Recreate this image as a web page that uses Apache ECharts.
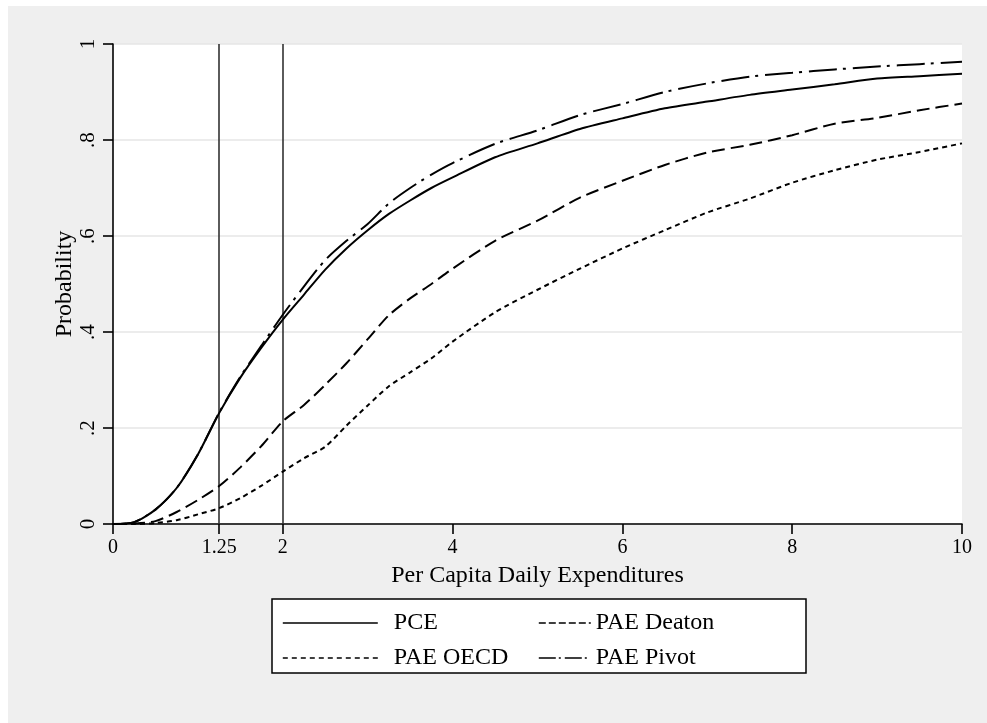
<!DOCTYPE html>
<html>
<head>
<meta charset="utf-8">
<script src="https://cdn.jsdelivr.net/npm/echarts@6/dist/echarts.min.js"></script>
<style>
html,body{margin:0;padding:0;background:#fff;}
#main{width:987px;height:723px;}
</style>
</head>
<body>
<div id="main"></div>
<script>
// ---- data ----
const xs = [0, 0.25, 0.5, 0.75, 1, 1.25, 1.5, 1.75, 2, 2.25, 2.5, 2.75, 3, 3.25, 3.5, 3.75, 4, 4.5, 5, 5.5, 6, 6.5, 7, 7.5, 8, 8.5, 9, 9.5, 10];
const pce    = [0, 0.004, 0.03, 0.075, 0.145, 0.231, 0.305, 0.368, 0.426, 0.478, 0.53, 0.574, 0.612, 0.646, 0.674, 0.70, 0.722, 0.764, 0.793, 0.823, 0.845, 0.866, 0.88, 0.894, 0.905, 0.916, 0.928, 0.933, 0.938];
const deaton = [0, 0.001, 0.006, 0.025, 0.05, 0.079, 0.118, 0.163, 0.214, 0.248, 0.29, 0.335, 0.385, 0.435, 0.47, 0.50, 0.532, 0.59, 0.632, 0.68, 0.715, 0.748, 0.774, 0.79, 0.81, 0.834, 0.846, 0.862, 0.876];
const oecd   = [0, 0, 0.002, 0.008, 0.02, 0.033, 0.054, 0.08, 0.109, 0.137, 0.161, 0.205, 0.247, 0.287, 0.316, 0.345, 0.38, 0.441, 0.488, 0.532, 0.574, 0.612, 0.649, 0.678, 0.711, 0.737, 0.759, 0.775, 0.793];
const pivot  = [0, 0.004, 0.03, 0.075, 0.145, 0.232, 0.307, 0.372, 0.436, 0.495, 0.55, 0.59, 0.625, 0.668, 0.70, 0.728, 0.752, 0.792, 0.82, 0.852, 0.875, 0.9, 0.918, 0.932, 0.94, 0.947, 0.953, 0.958, 0.963];
const seriesNames = ['PCE', 'PAE Deaton', 'PAE OECD', 'PAE Pivot'];
const xTicks = [0, 1.25, 2, 4, 6, 8, 10];
const refLines = [1.25, 2];
const xTitle = 'Per Capita Daily Expenditures';
const yTitle = 'Probability';

const FONT = '"Liberation Serif", "Times New Roman", serif';
const pair = arr => xs.map((x, i) => [x, arr[i]]);

const styles = {
  'PCE':        { type: 'solid',        legendType: 'solid' },
  'PAE Deaton': { type: [13, 6],        legendType: [7, 3] },
  'PAE OECD':   { type: [5, 4],         legendType: [5, 4] },
  'PAE Pivot':  { type: [28, 6, 3, 7],  legendType: [17, 3, 2, 4] }
};
const dataMap = { 'PCE': pce, 'PAE Deaton': deaton, 'PAE OECD': oecd, 'PAE Pivot': pivot };

const series = seriesNames.map((n, i) => {
  const s = {
    name: n, type: 'line', showSymbol: false, symbol: 'none', smooth: 0.25,
    data: pair(dataMap[n]),
    lineStyle: { color: '#000', width: 2, type: styles[n].type },
    itemStyle: { color: '#000' },
    z: 5,
    animation: false
  };
  if (i === 0) {
    s.markLine = {
      silent: true, symbol: ['none', 'none'], label: { show: false },
      lineStyle: { color: '#333', width: 1.6, type: 'solid' },
      data: refLines.map(v => ({ xAxis: v })),
      animation: false
    };
  }
  return s;
});

const legendPos = [
  { name: 'PCE',        left: 282, top: 611, w: 95, pad: 11 },
  { name: 'PAE Deaton', left: 538, top: 611, w: 52, pad: 0 },
  { name: 'PAE OECD',   left: 282, top: 646, w: 95, pad: 11 },
  { name: 'PAE Pivot',  left: 538, top: 646, w: 52, pad: 0 }
];
const legends = legendPos.map(p => ({
  show: true,
  data: [p.name], left: p.left, top: p.top, itemWidth: p.w, itemHeight: 14,
  selectedMode: false, padding: 0, z: 20,
  itemStyle: { opacity: 0 },
  lineStyle: { type: styles[p.name].legendType, width: 1.6, color: '#000', opacity: 1 },
  textStyle: { fontFamily: FONT, fontSize: 24, color: '#000', padding: [0, 0, 0, p.pad] }
}));

const chart = echarts.init(document.getElementById('main'), null, { renderer: 'canvas' });
chart.setOption({
  backgroundColor: '#fff',
  animation: false,
  graphic: [
    { type: 'rect', z: -10, shape: { x: 8, y: 6, width: 979, height: 717 }, style: { fill: '#efefef' }, silent: true },
    { type: 'rect', z: -5, shape: { x: 272, y: 599, width: 534, height: 74 }, style: { fill: '#fff', stroke: '#000', lineWidth: 1.5 }, silent: true }
  ],
  grid: { left: 113, top: 44, right: 25, bottom: 199, show: true, backgroundColor: '#fff', borderWidth: 0 },
  legend: legends,
  xAxis: {
    type: 'value', min: 0, max: 10,
    name: xTitle, nameLocation: 'middle', nameGap: 40, nameMoveOverlap: false,
    nameTextStyle: { fontFamily: FONT, fontSize: 24, color: '#000' },
    axisLine: { lineStyle: { color: '#000', width: 1.6 } },
    axisTick: { show: true, length: 10, customValues: xTicks, lineStyle: { color: '#000', width: 1.6 } },
    axisLabel: { customValues: xTicks, fontFamily: FONT, fontSize: 20, color: '#000', margin: 14,
      formatter: v => String(v) },
    splitLine: { show: false }
  },
  yAxis: {
    type: 'value', min: 0, max: 1, interval: 0.2,
    name: yTitle, nameLocation: 'middle', nameGap: 36, nameRotate: 90, nameMoveOverlap: false,
    nameTextStyle: { fontFamily: FONT, fontSize: 24, color: '#000' },
    axisLine: { show: true, lineStyle: { color: '#000', width: 1.6 } },
    axisTick: { show: true, length: 10, lineStyle: { color: '#000', width: 1.6 } },
    axisLabel: { rotate: 90, fontFamily: FONT, fontSize: 21, color: '#000', margin: 14,
      formatter: v => v === 0 ? '0' : (v === 1 ? '1' : v.toFixed(1).replace(/^0/, '')) },
    splitLine: { show: true, lineStyle: { color: '#e6e6e6', width: 1.6 } }
  },
  series: series
});
</script>
</body>
</html>
